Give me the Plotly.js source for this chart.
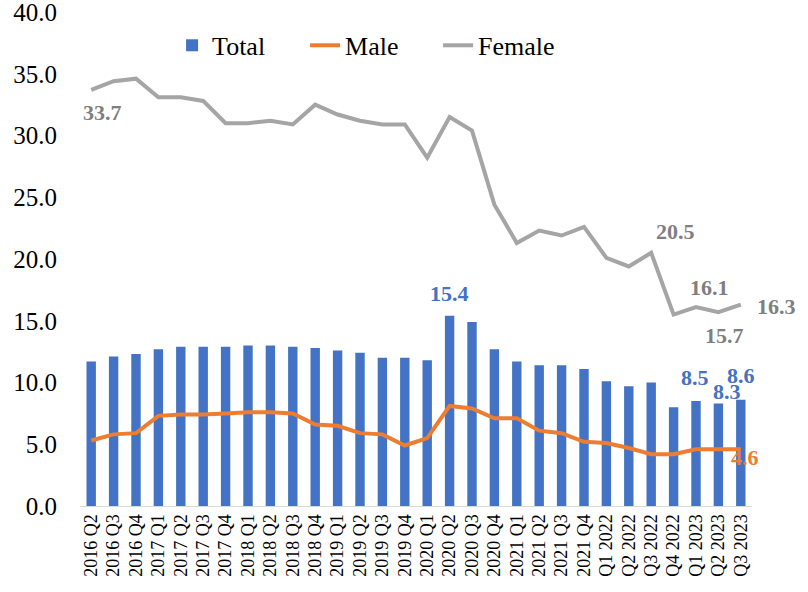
<!DOCTYPE html>
<html>
<head>
<meta charset="utf-8">
<script src="https://cdn.plot.ly/plotly-3.0.1.min.js"></script>
<style>
html,body{margin:0;padding:0;background:#fff;}
#chart{width:808px;height:592px;}
</style>
</head>
<body>
<div id="chart"></div>
<script>
const categories = ["2016 Q2","2016 Q3","2016 Q4","2017 Q1","2017 Q2","2017 Q3","2017 Q4","2018 Q1","2018 Q2","2018 Q3","2018 Q4","2019 Q1","2019 Q2","2019 Q3","2019 Q4","2020 Q1","2020 Q2","2020 Q3","2020 Q4","2021 Q1","2021 Q2","2021 Q3","2021 Q4","Q1 2022","Q2 2022","Q3 2022","Q4 2022","Q1 2023","Q2 2023","Q3 2023"];
const total = [11.7,12.1,12.3,12.7,12.9,12.9,12.9,13.0,13.0,12.9,12.8,12.6,12.4,12.0,12.0,11.8,15.4,14.9,12.7,11.7,11.4,11.4,11.1,10.1,9.7,10.0,8.0,8.5,8.3,8.6];
const male = [5.3,5.8,5.9,7.3,7.4,7.4,7.5,7.6,7.6,7.5,6.6,6.5,5.9,5.8,4.9,5.5,8.1,7.9,7.1,7.1,6.1,5.9,5.2,5.1,4.7,4.2,4.2,4.6,4.6,4.6];
const female = [33.7,34.4,34.6,33.1,33.1,32.8,31.0,31.0,31.2,30.9,32.5,31.7,31.2,30.9,30.9,28.2,31.5,30.4,24.4,21.3,22.3,21.9,22.6,20.1,19.4,20.5,15.5,16.1,15.7,16.3];
const yTicks = [0,5,10,15,20,25,30,35,40];

const FONT = "Liberation Serif, Times New Roman, serif";
const BLUE = "#4472C4", ORANGE = "#ED7D31", GRAY = "#A5A5A5", GRAYTXT = "#7F7F7F";

function lab(series, i, color, xs, ys) {
  return {x: categories[i], y: series[i], xref: "x", yref: "y", text: "<b>" + series[i].toFixed(1) + "</b>",
    showarrow: false, xshift: xs, yshift: ys,
    font: {family: FONT, size: 22, color: color}};
}

const annotations = [
  lab(female, 0, GRAYTXT, 11, -23),
  lab(female, 25, GRAYTXT, 24, 21),
  lab(female, 27, GRAYTXT, 13, 20),
  lab(female, 28, GRAYTXT, 6, -23),
  lab(female, 29, GRAYTXT, 36, -2),
  lab(total, 16, BLUE, 0, 22),
  lab(total, 27, BLUE, -1, 24),
  lab(total, 28, BLUE, 9, 12),
  lab(total, 29, BLUE, 0, 24),
  lab(male, 29, ORANGE, 4, -8)
];

const traces = [
  {type: "bar", name: "Total", x: categories, y: total, marker: {color: BLUE}},
  {type: "scatter", mode: "lines", name: "Male", x: categories, y: male, line: {color: ORANGE, width: 4}},
  {type: "scatter", mode: "lines", name: "Female", x: categories, y: female, line: {color: GRAY, width: 4}}
];

const layout = {
  width: 808, height: 592,
  margin: {l: 80, r: 56, t: 12, b: 86},
  paper_bgcolor: "#fff", plot_bgcolor: "#fff",
  bargap: 0.58,
  showlegend: true,
  font: {family: FONT, color: "#000"},
  legend: {orientation: "h", x: 0.137, xanchor: "left", y: 0.98, yanchor: "top",
    font: {family: FONT, size: 26, color: "#000"}, entrywidth: 88, bgcolor: "rgba(0,0,0,0)"},
  xaxis: {type: "category", range: [-0.5, categories.length - 0.5], autorange: false, tickangle: -90,
    tickfont: {family: FONT, size: 18, color: "#000"}, ticklabeloverflow: "allow",
    showline: true, linecolor: "#D9D9D9", linewidth: 1, showgrid: false, ticks: "", zeroline: false},
  yaxis: {range: [0, 40], autorange: false, tickvals: yTicks, ticktext: yTicks.map(v => v.toFixed(1)),
    tickfont: {family: FONT, size: 25, color: "#000"}, showgrid: false, zeroline: false, ticklabeloverflow: "allow",
    showline: false, ticks: "outside", ticklen: 17, tickcolor: "rgba(0,0,0,0)"},
  annotations: annotations
};

Plotly.newPlot("chart", traces, layout, {displayModeBar: false, staticPlot: true});
</script>
</body>
</html>
